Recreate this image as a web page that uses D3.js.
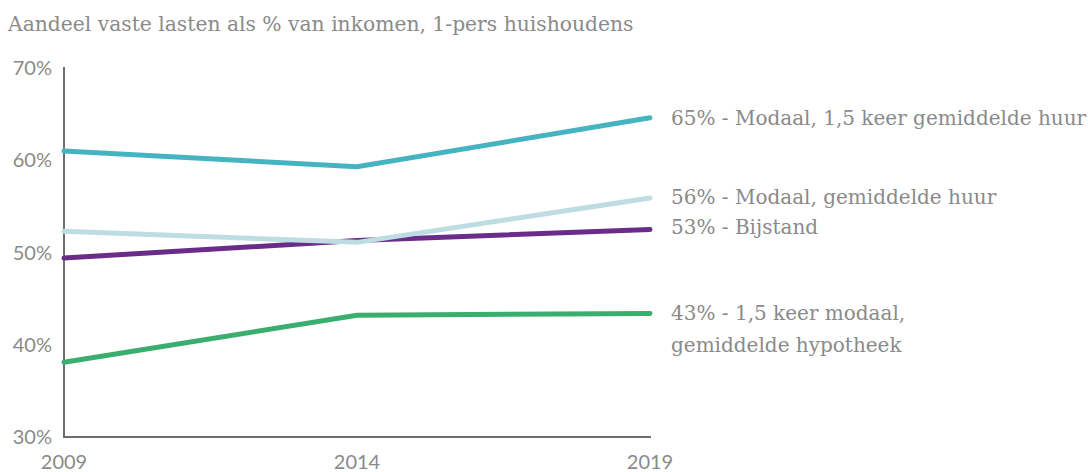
<!DOCTYPE html>
<html><head><meta charset="utf-8">
<script src="https://cdn.jsdelivr.net/npm/d3@7"></script>
<style>body{margin:0;background:#fff}svg{display:block}</style>
</head><body><svg id="c" width="1088" height="472"></svg>
<script>
const years = [2009, 2014, 2019];
const yTicks = [30, 40, 50, 60, 70];
const seriesNames = ["Modaal, 1,5 keer gemiddelde huur", "Bijstand", "Modaal, gemiddelde huur", "1,5 keer modaal, gemiddelde hypotheek"];
const teal = [61.0, 59.3, 64.6];
const purple = [49.4, 51.3, 52.5];
const lightblue = [52.3, 51.1, 55.9];
const green = [38.1, 43.2, 43.4];
const endLabels = [
  ["65% - Modaal, 1,5 keer gemiddelde huur"],
  ["53% - Bijstand"],
  ["56% - Modaal, gemiddelde huur"],
  ["43% - 1,5 keer modaal,", "gemiddelde hypotheek"]
];
const colors = ["#46b4c0", "#6a2b8a", "#bddde2", "#3aae6f"];
const labelY = [118, 227, 197, 313];

const svg = d3.select("#c");
const x = d3.scalePoint().domain(years).range([64, 650]);
const y = d3.scaleLinear().domain([30, 70]).range([437, 68]);
const textCol = "#8a8a8a";
const serif = "'DejaVu Serif', serif";
const sans = "Lato, 'Open Sans', sans-serif";

svg.append("text").attr("x", 8).attr("y", 31).attr("fill", textCol)
  .style("font-family", serif).style("font-size", "20.3px").style("font-weight", 300)
  .text("Aandeel vaste lasten als % van inkomen, 1-pers huishoudens");

// axes
svg.append("line").attr("x1", 64).attr("x2", 64).attr("y1", y(70) - 1).attr("y2", y(30))
  .attr("stroke", "#6e6e6e").attr("stroke-width", 2);
svg.append("line").attr("x1", 63).attr("x2", 651).attr("y1", y(30)).attr("y2", y(30))
  .attr("stroke", "#6e6e6e").attr("stroke-width", 2);

svg.selectAll(".yt").data(yTicks).enter().append("text")
  .attr("x", 52).attr("y", d => y(d)).attr("dy", "0.35em").attr("text-anchor", "end")
  .attr("fill", textCol).style("font-family", sans).style("font-size", "20px")
  .text(d => d + "%");

svg.selectAll(".xt").data(years).enter().append("text")
  .attr("x", d => x(d)).attr("y", 469).attr("text-anchor", "middle")
  .attr("fill", textCol).style("font-family", sans).style("font-size", "20px")
  .text(d => d);

const all = [teal, purple, lightblue, green];
const line = d3.line().x((d, i) => x(years[i])).y(d => y(d));
all.forEach((s, i) => {
  svg.append("path").datum(s).attr("d", line).attr("fill", "none")
    .attr("stroke", colors[i]).attr("stroke-width", 5).attr("stroke-linecap", "round");
});

endLabels.forEach((lines, i) => {
  const t = svg.append("text").attr("x", 671).attr("y", labelY[i])
    .attr("fill", textCol).style("font-family", serif).style("font-size", "20px")
    .style("font-weight", 300);
  lines.forEach((l, j) => t.append("tspan").attr("x", 671).attr("dy", j === 0 ? "0.35em" : "32px").text(l));
});
</script></body></html>
